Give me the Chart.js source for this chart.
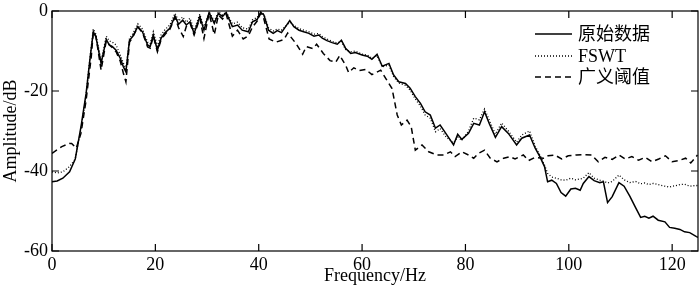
<!DOCTYPE html>
<html>
<head>
<meta charset="utf-8">
<script src="https://cdn.jsdelivr.net/npm/chart.js@4.4.1/dist/chart.umd.min.js"></script>
<style>
  html, body { margin: 0; padding: 0; background: #fff; }
  #wrap { width: 700px; height: 287px; position: relative; }
</style>
</head>
<body>
<div id="wrap"><canvas id="specChart"></canvas></div>
<script>
// Spectrum readings (Hz / dB)
const freqOrig = [0, 1, 2.1, 3.4, 4.5, 5.6, 6.6, 7.4, 8.0, 8.5, 9.5, 10.5, 11.1, 11.7, 12.4, 13.2, 13.8, 14.3, 15.0, 15.6,
  16.6, 17.5, 18.5, 19.0, 19.6, 20.4, 21.1, 21.9, 22.8, 23.8, 24.5, 25.3, 26.0, 26.7, 27.5, 28.6, 29.4, 30.4, 31.4, 32.2,
  33.0, 33.7, 34.9, 35.9, 36.8, 38.0, 38.8, 39.7, 40.4, 41.0, 41.9, 42.8, 43.6, 44.4, 45.2, 46.0, 46.8, 47.8, 48.7, 49.7,
  50.7, 51.6, 52.3, 53.2, 54.2, 55.2, 56.0, 56.8, 57.8, 58.7, 60.0, 61.0, 61.9, 62.9, 63.9, 65.2, 66.1, 67.1, 68.4, 69.3,
  70.3, 71.3, 72.2, 73.2, 74.2, 75.1, 76.2, 77.7, 78.5, 79.3, 80.6, 81.6, 82.7, 83.7, 84.6, 85.8, 87.0, 88.3, 89.9, 90.9,
  92.4, 93.5, 94.4, 95.3, 95.9, 96.7, 97.6, 98.5, 99.4, 100.4, 101.3, 102.2, 102.8, 103.9, 104.9, 106.0, 106.7, 107.5, 108.4, 109.7,
  110.7, 111.8, 112.9, 113.9, 114.7, 115.5, 116.3, 117.3, 118.6, 119.5, 120.5, 121.5, 122.4, 123.4, 124.7, 125];

const ampOrig = [-42.7, -42.5, -41.8, -40.2, -37, -29, -20.6, -11.4, -5.2, -6.5, -13.1, -7.1, -8.5, -8.9, -9.8, -11.8, -13.9, -15.2, -7.3, -6.4,
  -3.9, -5.2, -8.5, -8.9, -6.0, -9.8, -6.8, -5.4, -4.3, -1.3, -3.3, -2.3, -3.5, -2.7, -5.6, -1.4, -4.8, -0.4, -3.1, -0.6,
  -1.4, -0.4, -3.9, -3.5, -4.8, -5.2, -2.7, -2.1, -0.4, -1.0, -4.8, -5.6, -4.9, -5.4, -3.9, -2.4, -3.9, -4.8, -5.2, -5.6,
  -6.3, -6.0, -6.8, -7.4, -7.9, -8.3, -7.3, -9.3, -10.6, -10.4, -11.0, -11.3, -12.1, -10.8, -13.8, -13.1, -16.0, -17.7, -18.1, -19.3,
  -21.4, -23.1, -25.2, -26.0, -29.3, -28.5, -30.6, -33.5, -30.8, -32.1, -30.6, -28.1, -28.5, -25.2, -28.1, -31.6, -28.9, -30.6, -33.5, -31.8,
  -31.0, -34.3, -36.4, -38.9, -42.7, -42.3, -43.1, -45.4, -46.3, -44.5, -44.3, -44.8, -43.1, -41.4, -42.4, -42.9, -42.7, -47.9, -46.4, -42.9,
  -43.8, -46.3, -49.1, -51.6, -51.3, -51.8, -51.3, -52.3, -52.7, -54.1, -54.3, -54.6, -55.2, -55.4, -56.4, -56.6];

const ampFswt = [-40.2, -40.5, -40.2, -38.9, -37, -29.5, -21, -11, -4.5, -5.8, -12.5, -6.3, -7.5, -7.8, -8.5, -11, -13, -14.5, -6.8, -5.8,
  -3.2, -4.5, -7.8, -8.2, -5.2, -8.8, -6.0, -4.6, -3.5, -0.6, -2.5, -1.5, -2.8, -1.8, -4.8, -0.8, -4.2, -0.2, -2.5, -0.2,
  -1.0, -0.2, -3.2, -2.8, -4.2, -4.5, -2.2, -1.6, -0.2, -0.8, -4.2, -5.0, -4.5, -4.8, -3.8, -2.8, -3.6, -4.4, -4.8, -5.2,
  -5.8, -5.6, -6.4, -7.0, -7.6, -8.0, -7.6, -9.6, -10.2, -10.0, -10.8, -11.0, -11.8, -11.2, -14.0, -13.5, -16.4, -18.0, -18.6, -19.8,
  -22.0, -23.8, -26.0, -26.8, -30.2, -29.4, -31.4, -33.0, -31.5, -32.4, -30.0, -26.8, -27.2, -24.5, -27.2, -30.8, -28.0, -30.0, -32.8, -31.0,
  -30.0, -33.8, -36.0, -38.5, -40.6, -41.5, -41.8, -42.2, -42.3, -41.8, -42.2, -42.0, -41.8, -40.4, -41.8, -42.3, -42.5, -43.0, -42.6, -41.0,
  -42.2, -42.9, -42.6, -43.2, -43.0, -43.4, -43.1, -43.4, -43.8, -44.0, -43.7, -43.4, -43.3, -43.8, -43.6, -43.8];

const freqThresh = [0, 1.9, 3.4, 3.8, 4.7, 5.6, 6.6, 7.6, 8.0, 8.5, 9.5, 10.5, 11.1, 11.7, 12.4, 13.2, 13.8, 14.3, 15.0, 15.6,
  16.6, 17.5, 18.5, 19.0, 19.6, 20.4, 21.1, 21.9, 22.8, 23.8, 24.5, 25.4, 26.0, 26.7, 27.5, 28.6, 29.4, 30.4, 31.4, 32.2,
  33.0, 33.7, 34.9, 35.9, 37.0, 38.0, 38.8, 39.7, 40.4, 41.0, 42.0, 43.3, 44.9, 45.6, 47.2, 48.5, 49.2, 50.5, 51.2, 52.5,
  53.8, 54.9, 55.7, 56.9, 57.4, 58.4, 59.5, 60.7, 61.9, 63.6, 64.6, 65.8, 66.8, 67.6, 68.7, 69.5, 70.3, 71.6, 72.9, 74.5,
  75.8, 77.1, 78.0, 79.3, 80.6, 81.6, 82.5, 83.7, 84.8, 86.1, 87.4, 88.6, 89.6, 91.2, 92.2, 93.5, 95.1, 96.0, 97.3, 98.6,
  99.9, 101.5, 102.8, 104.4, 105.7, 107.0, 108.4, 109.7, 110.9, 112.2, 113.5, 114.8, 116.1, 117.4, 118.7, 120.0, 121.3, 122.6, 123.6, 124.9];

const ampThresh = [-35.6, -33.9, -33.1, -33.1, -34.3, -30.6, -22.3, -11.4, -5.2, -6.3, -14.8, -7.4, -8.5, -9.2, -10.2, -12.5, -15.5, -17.7, -7.8, -6.6,
  -4.0, -5.4, -9.0, -9.3, -6.3, -10.2, -7.2, -5.8, -4.6, -1.6, -4.2, -6.4, -3.8, -3.0, -6.0, -1.8, -6.9, -0.6, -5.9, -1.0,
  -2.0, -0.8, -6.3, -4.8, -7.0, -6.2, -4.0, -2.5, -0.5, -2.0, -7.0, -7.8, -7.1, -5.5, -8.1, -10.8, -8.9, -9.4, -8.3, -10.6,
  -12.4, -12.8, -11.1, -13.8, -15.4, -14.2, -14.9, -14.6, -15.9, -14.8, -16.9, -19.4, -26.0, -28.5, -27.3, -28.9, -34.8, -33.5, -35.2, -36.0,
  -36.0, -35.2, -36.4, -35.2, -36.0, -36.8, -35.6, -34.8, -36.8, -37.7, -36.8, -36.4, -37.0, -36.0, -37.4, -36.6, -36.8, -36.2, -36.0, -37.0,
  -36.2, -36.0, -35.9, -36.0, -37.7, -36.6, -37.1, -36.0, -37.0, -36.4, -37.3, -36.6, -37.7, -37.0, -36.2, -37.7, -37.4, -36.8, -38.0, -36.0];

const seriesNames = ['原始数据', 'FSWT', '广义阈值'];

const SERIF = '"Liberation Serif", "Times New Roman", "Noto Sans CJK SC", serif';
const FONT_SIZE = 18;
const TICK_LEN = 7;

function toPoints(xs, ys) {
  return xs.map((x, i) => ({ x: x, y: ys[i] }));
}

// box frame + inward tick marks on all four sides
const frameTicks = {
  id: 'frameTicks',
  afterDatasetsDraw(chart) {
    const { ctx, chartArea: a, scales } = chart;
    ctx.save();
    ctx.strokeStyle = '#000';
    ctx.lineWidth = 1.2;
    ctx.strokeRect(a.left, a.top, a.right - a.left, a.bottom - a.top);
    ctx.beginPath();
    scales.x.ticks.forEach(t => {
      const px = scales.x.getPixelForValue(t.value);
      ctx.moveTo(px, a.bottom); ctx.lineTo(px, a.bottom - TICK_LEN);
      ctx.moveTo(px, a.top); ctx.lineTo(px, a.top + TICK_LEN);
    });
    scales.y.ticks.forEach(t => {
      const py = scales.y.getPixelForValue(t.value);
      ctx.moveTo(a.left, py); ctx.lineTo(a.left + TICK_LEN, py);
      ctx.moveTo(a.right, py); ctx.lineTo(a.right - TICK_LEN, py);
    });
    ctx.stroke();
    ctx.restore();
  }
};

// legend drawn inside the plot, top right
const innerLegend = {
  id: 'innerLegend',
  afterDraw(chart) {
    const { ctx } = chart;
    const x0 = 535, x1 = 572, tx = 578;
    const rows = [34, 56, 77];
    ctx.save();
    ctx.font = FONT_SIZE + 'px ' + SERIF;
    ctx.textBaseline = 'middle';
    ctx.fillStyle = '#000';
    chart.data.datasets.forEach((ds, i) => {
      ctx.beginPath();
      ctx.strokeStyle = '#000';
      ctx.lineWidth = ds.borderWidth;
      ctx.setLineDash(ds.borderDash || []);
      ctx.moveTo(x0, rows[i]);
      ctx.lineTo(x1, rows[i]);
      ctx.stroke();
      ctx.setLineDash([]);
      ctx.fillText(ds.label, tx, rows[i] + 1);
    });
    ctx.restore();
  }
};

const ctx = document.getElementById('specChart').getContext('2d');

new Chart(ctx, {
  type: 'line',
  data: {
    datasets: [
      {
        label: seriesNames[0],
        data: toPoints(freqOrig, ampOrig),
        borderColor: '#000',
        borderWidth: 1.5,
        pointRadius: 0,
        fill: false
      },
      {
        label: seriesNames[1],
        data: toPoints(freqOrig, ampFswt),
        borderColor: '#000',
        borderWidth: 1.3,
        borderDash: [1, 2],
        pointRadius: 0,
        fill: false
      },
      {
        label: seriesNames[2],
        data: toPoints(freqThresh, ampThresh),
        borderColor: '#000',
        borderWidth: 1.5,
        borderDash: [6, 4],
        pointRadius: 0,
        fill: false
      }
    ]
  },
  options: {
    responsive: true,
    maintainAspectRatio: false,
    animation: false,
    layout: { padding: { left: 0, right: 2, top: 11, bottom: 0 } },
    plugins: {
      legend: { display: false },
      tooltip: { enabled: false }
    },
    scales: {
      x: {
        type: 'linear',
        min: 0,
        max: 125,
        afterFit: (scale) => {
          scale.height = 36;
          scale.paddingLeft = 0;
          scale.paddingRight = 0;
        },
        grid: { display: false, drawTicks: false },
        border: { display: false },
        ticks: {
          stepSize: 20,
          includeBounds: false,
          padding: 3,
          color: '#000',
          font: { family: SERIF, size: FONT_SIZE },
          maxRotation: 0
        },
        title: {
          display: true,
          text: 'Frequency/Hz',
          color: '#000',
          font: { family: SERIF, size: FONT_SIZE },
          padding: { top: 0, bottom: 0 }
        }
      },
      y: {
        min: -60,
        max: 0,
        afterFit: (scale) => {
          scale.width = 52;
          scale.paddingTop = 0;
          scale.paddingBottom = 0;
        },
        grid: { display: false, drawTicks: false },
        border: { display: false },
        ticks: {
          stepSize: 20,
          padding: 4,
          color: '#000',
          font: { family: SERIF, size: FONT_SIZE }
        },
        title: {
          display: true,
          text: 'Amplitude/dB',
          color: '#000',
          font: { family: SERIF, size: FONT_SIZE },
          padding: { top: 0, bottom: 0 }
        }
      }
    }
  },
  plugins: [frameTicks, innerLegend]
});
</script>
</body>
</html>
